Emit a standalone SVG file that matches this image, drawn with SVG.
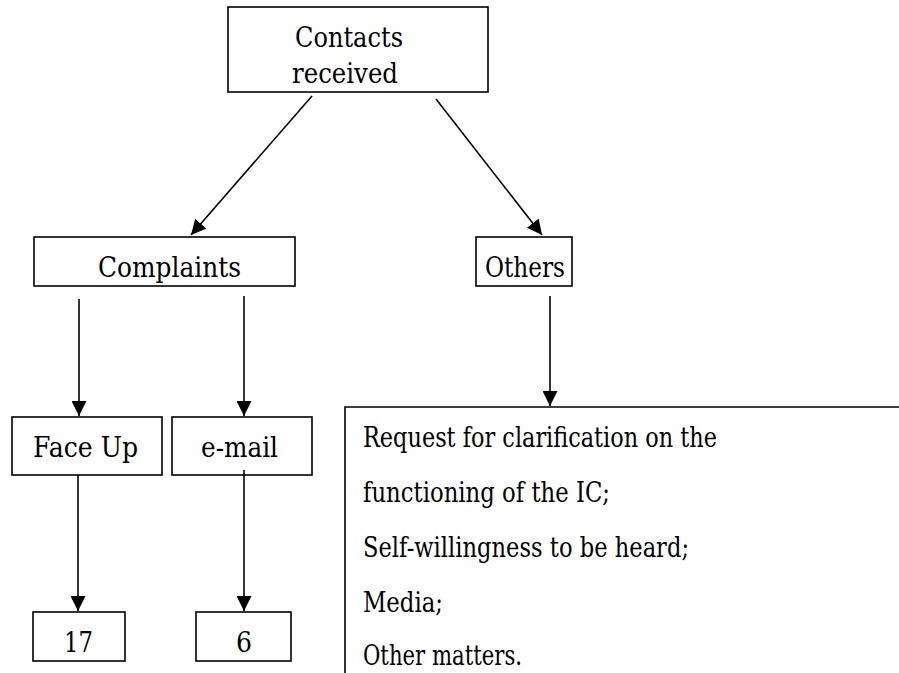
<svg xmlns="http://www.w3.org/2000/svg" width="899" height="673" viewBox="0 0 899 673">
<style>
.box{fill:#fff;stroke:#000;stroke-width:1.6}
.c{stroke:#000;stroke-width:1.6;fill:none}
text{font-family:"DejaVu Serif",serif;font-size:27px;fill:#000}
</style>
<defs>
<marker id="ah" markerUnits="userSpaceOnUse" markerWidth="15" markerHeight="15" refX="15" refY="7.5" orient="auto">
<path d="M0,0 L15,7.5 L0,15 z" fill="#000"/>
</marker>
</defs>
<rect width="899" height="673" fill="#fff"/>
<g id="contacts">
<rect class="box" x="228" y="7" width="260" height="85"/>
<text x="295" y="47" textLength="108" lengthAdjust="spacingAndGlyphs">Contacts</text>
<text x="292" y="83" textLength="106" lengthAdjust="spacingAndGlyphs">received</text>
</g>
<g id="complaints">
<rect class="box" x="34" y="237" width="261" height="49"/>
<text x="98" y="277" textLength="143" lengthAdjust="spacingAndGlyphs">Complaints</text>
</g>
<g id="others">
<rect class="box" x="476" y="237" width="96" height="49"/>
<text x="485" y="277" textLength="80" lengthAdjust="spacingAndGlyphs">Others</text>
</g>
<g id="faceup">
<rect class="box" x="12" y="417" width="150" height="58"/>
<text x="33" y="457" textLength="105" lengthAdjust="spacingAndGlyphs">Face Up</text>
</g>
<g id="email">
<rect class="box" x="172" y="417" width="140" height="58"/>
<text x="201" y="457" textLength="77" lengthAdjust="spacingAndGlyphs">e-mail</text>
</g>
<g id="n17">
<rect class="box" x="33" y="612" width="92" height="49"/>
<text x="64" y="652" textLength="29" lengthAdjust="spacingAndGlyphs">17</text>
</g>
<g id="n6">
<rect class="box" x="196" y="612" width="95" height="49"/>
<text x="236" y="652" textLength="16" lengthAdjust="spacingAndGlyphs">6</text>
</g>
<g id="otherslist">
<path class="c" d="M345,673 L345,407 L899,407"/>
<text x="363" y="447" textLength="354" lengthAdjust="spacingAndGlyphs">Request for clarification on the</text>
<text x="363" y="502" textLength="247" lengthAdjust="spacingAndGlyphs">functioning of the IC;</text>
<text x="363" y="557" textLength="326" lengthAdjust="spacingAndGlyphs">Self-willingness to be heard;</text>
<text x="363" y="612" textLength="80" lengthAdjust="spacingAndGlyphs">Media;</text>
<text x="363" y="665" textLength="159" lengthAdjust="spacingAndGlyphs">Other matters.</text>
</g>
<g id="connectors">
<line class="c" x1="312" y1="96" x2="191" y2="235" marker-end="url(#ah)"/>
<line class="c" x1="436" y1="99" x2="542" y2="235" marker-end="url(#ah)"/>
<line class="c" x1="79" y1="299" x2="79" y2="416" marker-end="url(#ah)"/>
<line class="c" x1="244" y1="296" x2="244" y2="416" marker-end="url(#ah)"/>
<line class="c" x1="550" y1="296" x2="550" y2="406" marker-end="url(#ah)"/>
<line class="c" x1="78" y1="475" x2="78" y2="611" marker-end="url(#ah)"/>
<line class="c" x1="244" y1="470" x2="244" y2="611" marker-end="url(#ah)"/>
</g>
</svg>
